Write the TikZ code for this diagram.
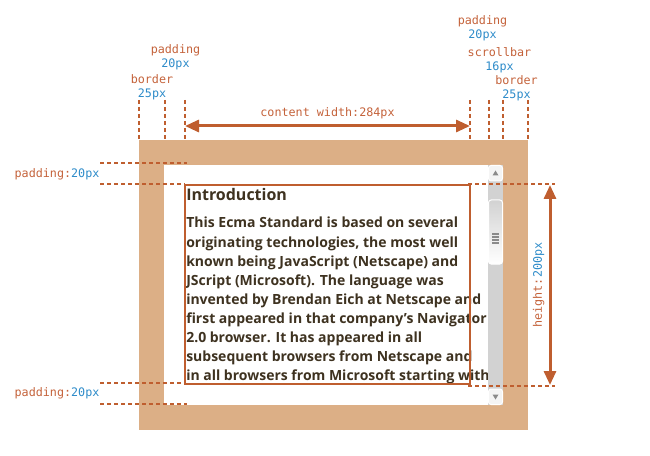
\documentclass[tikz,border=0pt]{standalone}
\usepackage{fontspec}
\setmainfont{Open Sans}
\setmonofont{DejaVu Sans Mono}
\usetikzlibrary{arrows.meta, positioning}
\definecolor{cborder}{HTML}{DCAF86}
\definecolor{cline}{HTML}{BF5E2F}
\definecolor{corange}{HTML}{C4623A}
\definecolor{cblue}{HTML}{2D8BC9}
\definecolor{ctext}{HTML}{3E3220}
\definecolor{ctrack}{HTML}{D2D2D2}
\definecolor{cbutton}{HTML}{F4F4F4}
\definecolor{cgrip}{HTML}{8A8A8A}
\tikzset{
  every picture/.style={x=0.75pt, y=-0.75pt},
  guide/.style={draw=cline, line width=1.5pt, dash pattern=on 3pt off 2.25pt},
  dimarrow/.style={{Triangle[length=10.5pt, width=9pt]}-{Triangle[length=10.5pt, width=9pt]}, draw=cline, fill=cline, line width=2.25pt},
  dimlabel/.style={font=\ttfamily\fontsize{8.8}{10.5}\selectfont, text=corange, inner sep=1pt, align=center},
  bodyline/.style={anchor=base west, inner sep=0pt, font=\bfseries\fontsize{10.5}{12}\selectfont, text=ctext},
  sbbutton/.style={draw=white, fill=cbutton, rounded corners=2pt, line width=0.75pt},
}
\begin{document}
\begin{tikzpicture}
  \useasboundingbox (0,0) rectangle (650,456);
  \fill[cborder] (139,140) rectangle (528,430);
  \fill[white] (164,165) rectangle (503,405);

  \node[bodyline, font=\bfseries\fontsize{12}{14}\selectfont] (heading) at (186,201) {Introduction};
  \foreach \txt [count=\i from 0] in {
      {This Ecma Standard is based on several},
      {originating technologies, the most well},
      {known being JavaScript (Netscape) and},
      {JScript (Microsoft). The language was},
      {invented by Brendan Eich at Netscape and},
      {first appeared in that company’s Navigator},
      {2.0 browser. It has appeared in all},
      {subsequent browsers from Netscape and},
      {in all browsers from Microsoft starting with}}
    \node[bodyline] (line\i) at (186,{228+19.1*\i}) {\txt};
  \draw[cline, line width=1.5pt] (185,185) rectangle (469.5,384);

  \fill[ctrack] (488,165) rectangle (503,405);
  \draw[sbbutton] (488.5,165.5) rectangle (502.5,181);
  \fill[cgrip] (492.5,175.5) -- (498.5,175.5) -- (495.5,170.5) -- cycle;
  \shade[top color=ctrack, bottom color=white, rounded corners=2pt] (488.5,200) rectangle (502.5,264);
  \draw[white, rounded corners=2pt, line width=0.75pt] (488.5,200) rectangle (502.5,264);
  \foreach \g in {234,237,240,243}
    \draw[cgrip, line width=1.5pt] (492,\g) -- (499,\g);
  \draw[sbbutton] (488.5,389) rectangle (502.5,404.5);
  \fill[cgrip] (492.5,394.5) -- (498.5,394.5) -- (495.5,399.5) -- cycle;

  \foreach \gx in {139,164.5,185,470,489,503,528}
    \draw[guide] (\gx,100) -- (\gx,140);
  \foreach \gy/\ge in {163/187, 184/185, 383/185, 404/187}
    \draw[guide] (100,\gy) -- (\ge,\gy);
  \draw[guide] (468,184) -- (555,184);
  \draw[guide] (468,385.5) -- (555,385.5);

  \coordinate (cw-l) at (185,126);
  \coordinate (cw-r) at (470,126);
  \draw[dimarrow] (cw-l) -- node[dimlabel, above=3pt] (cwlabel) {content width:284px} (cw-r);
  \coordinate (h-t) at (550,185);
  \coordinate (h-b) at (550,385);
  \draw[dimarrow] (h-b) -- node[dimlabel, sloped, above=2pt] (hlabel) {height:{\color{cblue}200px}} (h-t);

  \node[dimlabel, anchor=east] (padtop) at (101,174) {padding:{\color{cblue}20px}};
  \node[dimlabel, anchor=east] (padbot) at (101,393) {padding:{\color{cblue}20px}};
  \node[dimlabel] (padleft) at (175.5,57.5) {padding\\{\color{cblue}20px}};
  \node[dimlabel] (borderleft) at (152,87.5) {border\\{\color{cblue}25px}};
  \node[dimlabel] (padright) at (482.5,28.5) {padding\\{\color{cblue}20px}};
  \node[dimlabel] (scrollbar) at (499.5,60) {scrollbar\\{\color{cblue}16px}};
  \node[dimlabel] (borderright) at (516.5,88.5) {border\\{\color{cblue}25px}};
\end{tikzpicture}
\end{document}
